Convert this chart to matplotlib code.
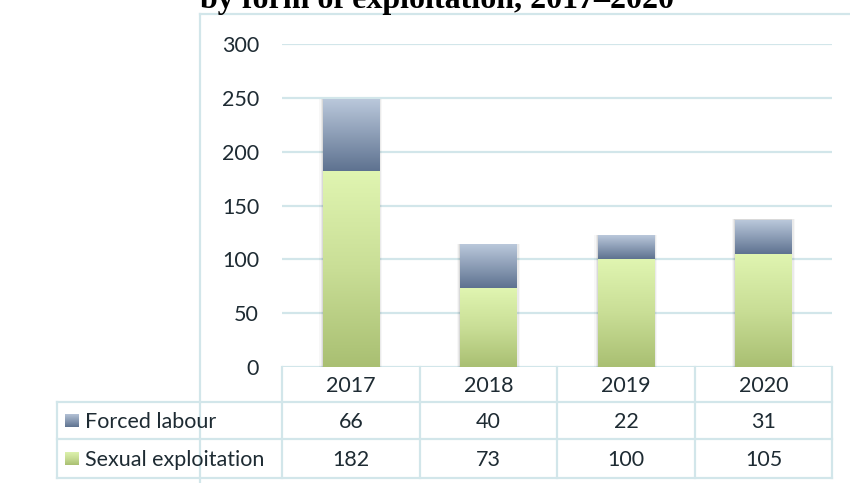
import numpy as np
import matplotlib
matplotlib.use("Agg")
import matplotlib.pyplot as plt
from matplotlib.colors import LinearSegmentedColormap
from matplotlib.lines import Line2D
from matplotlib.patches import Rectangle

# data
years = ["2017", "2018", "2019", "2020"]
forced_labour = [66, 40, 22, 31]
sexual_exploitation = [182, 73, 100, 105]
series_names = ["Forced labour", "Sexual exploitation"]
title = "by form of exploitation, 2017\u20132020"

W, H = 850, 483
fig = plt.figure(figsize=(W / 100, H / 100), dpi=100)

def fx(px):
    return px / W

def fy(py):
    return 1 - py / H

grid_col = "#D2E6EA"
text_col = "#1E2B33"
font = "Lato"
fs = 15.5

cmap_forced = LinearSegmentedColormap.from_list("f", ["#5E7290", "#BAC8DB"])
cmap_sexual = LinearSegmentedColormap.from_list("s", ["#A9BF72", "#C9DE96", "#E0F5B1"])

# plot area
ax = fig.add_axes([fx(282), fy(367), fx(832) - fx(282), fy(44) - fy(367)])
ax.set_yticks(range(0, 301, 50))
for s in ax.spines.values():
    s.set_visible(False)
ax.tick_params(axis="y", length=0, pad=16.5, labelsize=fs, labelcolor=text_col)
ax.tick_params(axis="x", length=0, labelbottom=False)
for lab in ax.get_yticklabels():
    lab.set_fontfamily(font)
ax.grid(axis="y", color=grid_col, linewidth=1.6)
ax.set_axisbelow(True)

grad = np.linspace(0, 1, 256).reshape(-1, 1)
bw = 0.41
for i in range(len(years)):
    bottoms = [0, sexual_exploitation[i]]
    heights = [sexual_exploitation[i], forced_labour[i]]
    cmaps = [cmap_sexual, cmap_forced]
    # soft shadow
    tot = sexual_exploitation[i] + forced_labour[i]
    for k, a in zip([0.05, 0.03, 0.015], [0.03, 0.05, 0.07]):
        ax.add_patch(Rectangle((i - bw / 2 - k / 2, 0), bw + k, tot + 1.0,
                               facecolor="black", alpha=a, linewidth=0, zorder=2))
    for b, h, cm in zip(bottoms, heights, cmaps):
        ax.imshow(grad, cmap=cm, origin="lower", aspect="auto",
                  extent=[i - bw / 2, i + bw / 2, b, b + h], zorder=3)
ax.set_xlim(-0.5, len(years) - 0.5)
ax.set_ylim(0, 300)

# chart border
fig.add_artist(Line2D([fx(200), fx(850)], [fy(14), fy(14)], color=grid_col, lw=1.6))
fig.add_artist(Line2D([fx(200), fx(200)], [fy(14), fy(483)], color=grid_col, lw=1.6))

# data table
col_x = [282, 420, 557, 695, 832]
row_y = [367, 402, 439, 478]
for x in col_x:
    fig.add_artist(Line2D([fx(x), fx(x)], [fy(367), fy(478)], color=grid_col, lw=1.6))
fig.add_artist(Line2D([fx(57), fx(57)], [fy(402), fy(478)], color=grid_col, lw=1.6))
for y in row_y[1:]:
    fig.add_artist(Line2D([fx(57), fx(832)], [fy(y), fy(y)], color=grid_col, lw=1.6))

for i, yr in enumerate(years):
    cx = (col_x[i] + col_x[i + 1]) / 2
    fig.text(fx(cx), fy((row_y[0] + row_y[1]) / 2 + 1), yr, ha="center", va="center",
             fontsize=fs, color=text_col, fontfamily=font)
    fig.text(fx(cx), fy((row_y[1] + row_y[2]) / 2 + 1), str(forced_labour[i]), ha="center",
             va="center", fontsize=fs, color=text_col, fontfamily=font)
    fig.text(fx(cx), fy((row_y[2] + row_y[3]) / 2 + 1), str(sexual_exploitation[i]), ha="center",
             va="center", fontsize=fs, color=text_col, fontfamily=font)

for r, (name, cm) in enumerate(zip(series_names, [cmap_forced, cmap_sexual])):
    yc = (row_y[r + 1] + row_y[r + 2]) / 2
    sw = fig.add_axes([fx(65), fy(yc + 7), fx(14), 14 / H])
    sw.imshow(grad, cmap=cm, origin="lower", aspect="auto")
    sw.axis("off")
    fig.text(fx(85), fy(yc + 1), name, ha="left", va="center", fontsize=fs,
             color=text_col, fontfamily=font)

# title (cut off at the top edge, as in the reference)
fig.text(fx(437), fy(8), title, ha="center", va="baseline", fontsize=23,
         fontweight="bold", fontfamily="Liberation Serif", color="black")

fig.savefig("out.png", dpi=100)
